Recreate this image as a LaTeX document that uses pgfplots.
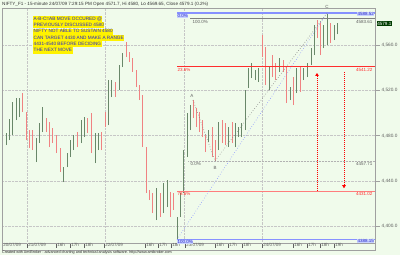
\documentclass[border=0pt]{standalone}
\usepackage{pgfplots}
\pgfplotsset{compat=1.18}
\usepackage{pgfplotstable}
\usepackage{fontspec}
\setmainfont{Liberation Sans}
\usetikzlibrary{arrows.meta}
\newcommand\fs[1]{\fontsize{#1}{#1}\selectfont}
\definecolor{bg}{RGB}{240,251,235}
\definecolor{upc}{RGB}{105,135,105}
\definecolor{dnc}{RGB}{240,130,130}
\definecolor{fibblue}{RGB}{135,145,255}
\definecolor{fibred}{RGB}{255,45,45}
\definecolor{fibred2}{RGB}{255,125,125}
\definecolor{framec}{RGB}{160,160,160}
\definecolor{labc}{RGB}{95,95,95}
\definecolor{txtblue}{RGB}{40,40,200}
\definecolor{lastbg}{RGB}{0,60,0}
\definecolor{lblbg}{RGB}{200,210,255}

\pgfplotstableread{
x l h
6 4471.7 4482.3
9 4476.1 4494.7
12 4480.5 4509.7
16 4493.8 4513.3
19 4496.5 4513.3
36 4456.6 4477.9
39 4473.4 4491.1
42 4483.2 4505.3
63 4438.9 4452.2
67 4452.2 4464.6
70 4461.1 4476.1
73 4467.2 4480.5
81 4473.4 4493.8
84 4478.8 4496.5
95 4455.7 4482.3
98 4467.2 4482.3
108 4489.4 4529.2
111 4514.2 4529.2
119 4520.3 4542.5
122 4540.7 4553.1
156 4405.3 4433.6
163 4411.5 4438.0
167 4416.8 4440.7
177 4388.15 4408.0
180 4408.0 4429.2
183 4429.2 4467.2
187 4461.1 4500.0
190 4484.9 4507.1
208 4474.3 4484.9
218 4467.2 4492.0
228 4469.9 4487.6
235 4469.9 4491.1
238 4478.8 4487.6
241 4478.8 4491.1
245 4484.9 4520.3
248 4522.1 4539.8
251 4531.0 4544.2
255 4529.2 4538.0
258 4527.4 4539.8
269 4520.3 4540.7
279 4536.3 4548.7
290 4511.5 4523.0
296 4517.7 4539.8
303 4529.2 4539.8
307 4531.9 4544.2
311 4542.5 4557.5
314 4551.3 4577.9
323 4557.5 4577.9
327 4560.2 4588.52
334 4564.6 4577.9
337 4569.65 4580.0
}\upbars

\pgfplotstableread{
x l h
2 4474.3 4494.7
22 4500.9 4517.7
26 4476.1 4500.9
29 4469.0 4484.9
32 4467.2 4484.9
46 4483.2 4495.6
49 4469.9 4492.0
52 4473.4 4486.7
56 4464.6 4480.5
60 4447.8 4469.0
77 4469.9 4483.2
87 4482.3 4495.6
91 4464.6 4500.0
101 4467.2 4483.2
105 4487.6 4500.9
115 4514.2 4527.4
126 4549.6 4563.0
129 4545.1 4554.0
132 4536.3 4548.7
136 4523.0 4538.0
139 4511.5 4524.8
142 4469.9 4515.9
146 4429.2 4469.9
149 4423.0 4431.8
152 4411.5 4429.2
160 4408.0 4429.2
170 4408.0 4430.1
173 4414.1 4429.2
193 4495.6 4511.5
196 4487.6 4504.4
199 4483.2 4500.9
202 4478.8 4493.8
205 4465.5 4480.5
212 4461.1 4487.6
215 4457.71 4476.1
222 4473.4 4493.8
225 4471.7 4491.1
232 4473.4 4492.0
262 4549.6 4569.0
265 4524.8 4558.4
272 4531.9 4551.3
275 4529.2 4544.2
283 4536.3 4546.9
286 4508.8 4540.7
293 4507.1 4531.9
300 4518.6 4540.7
317 4566.4 4582.3
320 4551.3 4580.5
330 4561.9 4579.6
}\dnbars

\begin{document}
\begin{tikzpicture}
\useasboundingbox (0,0) rectangle (400pt,255pt);
\fill[bg] (0,0) rectangle (400pt,255pt);
\begin{axis}[
  at={(2pt,12pt)}, anchor=south west,
  width=373pt, height=235pt, scale only axis,
  xmin=2, xmax=375, ymin=4385.05, ymax=4592.98,
  clip=false,
  axis background/.style={fill=bg},
  axis line style={draw=framec, line width=0.5pt},
  xtick={2,27,56,70,84,104,145,158,171,185,215,228,242,262,293,307,320,334},
  xticklabels={20/07/09,21/07/09,16h,17h,18h,22/07/09,16h,17h,18h,23/07/09,16h,17h,18h,24/07/09,16h,17h,18h,19h},
  xtick pos=bottom,
  x tick style={draw=labc, line width=0.4pt},
  xticklabel style={anchor=north west, font=\fs{4.5}, text=labc, inner sep=0.5pt, xshift=0.6pt},
  xticklabel shift=-4.5pt,
  ytick={4400,4440,4480,4520,4560},
  yticklabels={{4,400.0},{4,440.0},{4,480.0},{4,520.0},{4,560.0}},
  ytick pos=right, yticklabel pos=right,
  y tick style={draw=framec, line width=0.4pt},
  yticklabel style={anchor=west, font=\fs{4.7}, text=labc, inner sep=0.5pt, xshift=1.5pt},
  tick align=outside, major tick length=4.5pt,
  ymajorgrids, grid style={densely dotted, draw=gray!45, line width=0.4pt},
  extra x ticks={27,105,184,262}, extra x tick labels={},
  extra x tick style={xmajorgrids=true, major tick length=0pt},
]
% bars
\addplot[draw=none, mark=none, forget plot,
  error bars/.cd, y dir=plus, y explicit, error mark=none,
  error bar style={draw=upc, line width=1pt, solid}]
  table[x=x, y=l, y error plus expr={\thisrow{h}-\thisrow{l}}] {\upbars};
\addplot[draw=none, mark=none, forget plot,
  error bars/.cd, y dir=plus, y explicit, error mark=none,
  error bar style={draw=dnc, line width=1pt, solid}]
  table[x=x, y=l, y error plus expr={\thisrow{h}-\thisrow{l}}] {\dnbars};

% fibonacci levels
\addplot[fibblue, line width=1.3pt, forget plot] coordinates {(177,4588.52) (375,4588.52)};
\addplot[fibred, line width=1pt, forget plot] coordinates {(177,4541.22) (375,4541.22)};
\addplot[fibred2, line width=1pt, forget plot] coordinates {(177,4431.02) (375,4431.02)};
\addplot[fibblue, line width=1.3pt, forget plot] coordinates {(177,4388.15) (375,4388.15)};
\addplot[gray, line width=0.6pt, forget plot] coordinates {(190,4583.61) (375,4583.61)};
\addplot[gray!60, densely dotted, line width=0.5pt, forget plot] coordinates {(188,4457.71) (375,4457.71)};
% diagonals
\addplot[fibblue, dotted, line width=0.6pt, forget plot] coordinates {(177,4388.15) (327,4588.52)};
\addplot[gray, dotted, line width=0.6pt, forget plot] coordinates {(193,4511.5) (215,4457.71) (327,4588.52)};

% arrows
\draw[red, densely dotted, line width=1pt, -{Triangle[length=3pt,width=3.5pt]}] (axis cs:317,4431.02) -- (axis cs:317,4535.5);
\draw[red, densely dotted, line width=1pt, -{Triangle[length=3pt,width=3.5pt]}] (axis cs:344,4536.3) -- (axis cs:344,4433.5);

% level labels
\node[anchor=north west, font=\fs{4.5}, text=txtblue, fill=lblbg, inner sep=0.4pt] at (axis cs:177,4588.0) {0.0\%};
\node[anchor=north west, font=\fs{4.5}, text=fibred, inner sep=0.5pt] at (axis cs:177,4540.5) {23.6\%};
\node[anchor=north west, font=\fs{4.5}, text=fibred, inner sep=0.5pt] at (axis cs:177,4430.3) {78.6\%};
\node[anchor=north west, font=\fs{4.5}, text=txtblue, fill=lblbg, inner sep=0.4pt] at (axis cs:177,4387.6) {100.0\%};
\node[anchor=north west, font=\fs{4.5}, text=labc, inner sep=0.5pt] at (axis cs:192,4583.0) {100.0\%};
\node[anchor=north west, font=\fs{4.5}, text=labc, inner sep=0.5pt] at (axis cs:190,4457.0) {0.0\%};

\node[anchor=north east, font=\fs{4.5}, text=txtblue, fill=lblbg, inner sep=0.4pt] at (axis cs:374.5,4589.6) {4588.52};
\node[anchor=north east, font=\fs{4.5}, text=labc, inner sep=0.5pt] at (axis cs:373,4583.0) {4583.61};
\node[anchor=north east, font=\fs{4.5}, text=fibred, inner sep=0.5pt] at (axis cs:373,4540.5) {4541.22};
\node[anchor=north east, font=\fs{4.5}, text=labc, inner sep=0.5pt] at (axis cs:373,4457.0) {4457.71};
\node[anchor=north east, font=\fs{4.5}, text=fibred, inner sep=0.5pt] at (axis cs:373,4430.3) {4431.02};
\node[anchor=north east, font=\fs{4.5}, text=txtblue, fill=lblbg, inner sep=0.4pt] at (axis cs:374.5,4389.0) {4388.15};

% ABC labels
\node[font=\fs{4.5}, text=labc, inner sep=0pt] at (axis cs:192,4515.5) {A};
\node[font=\fs{4.5}, text=labc, inner sep=0pt] at (axis cs:215,4451.5) {B};
\node[font=\fs{4.5}, text=labc, inner sep=0pt] at (axis cs:327,4594.0) {C};

% last price
\node[anchor=west, font=\fs{4.6}, text=white, fill=lastbg, inner sep=0.6pt] at (axis cs:376.5,4579.1) {4579.1};
\end{axis}
\draw[framec, line width=0.5pt] (2pt,5pt) rectangle (375pt,247pt);
\node[anchor=west, inner sep=0pt, font=\fs{4.6}, text=black!80] at (2pt,251pt) {NIFTY\_F1 - 15-minute 24/07/09 7:29:15 PM Open 4571.7, Hi 4580, Lo 4569.65, Close 4579.1 (0.2\%)};
\begin{scope}[every node/.style={anchor=west, fill=yellow, text=txtblue, font=\fs{4.7}, inner xsep=0.5pt, inner ysep=0.8pt, text height=3.5pt, text depth=1pt}]
\node at (33pt,236pt) {A-B-C=AB MOVE OCCURED @};
\node at (33pt,229.7pt) {PREVIOUSLY DISCUSSED 4580};
\node at (33pt,223.4pt) {NIFTY NOT ABLE TO SUSTAIN 4580};
\node at (33pt,217.1pt) {CAN TARGET 4430 AND MAKE A RANGE};
\node at (33pt,210.8pt) {4431-4540 BEFORE DECIDING};
\node at (33pt,204.5pt) {THE NEXT MOVE};
\end{scope}
\node[anchor=west, inner sep=0pt, font=\fs{3.7}, text=black!85] at (2pt,2.4pt) {Created with AmiBroker - advanced charting and technical analysis software. http://www.amibroker.com};
\end{tikzpicture}
\end{document}
